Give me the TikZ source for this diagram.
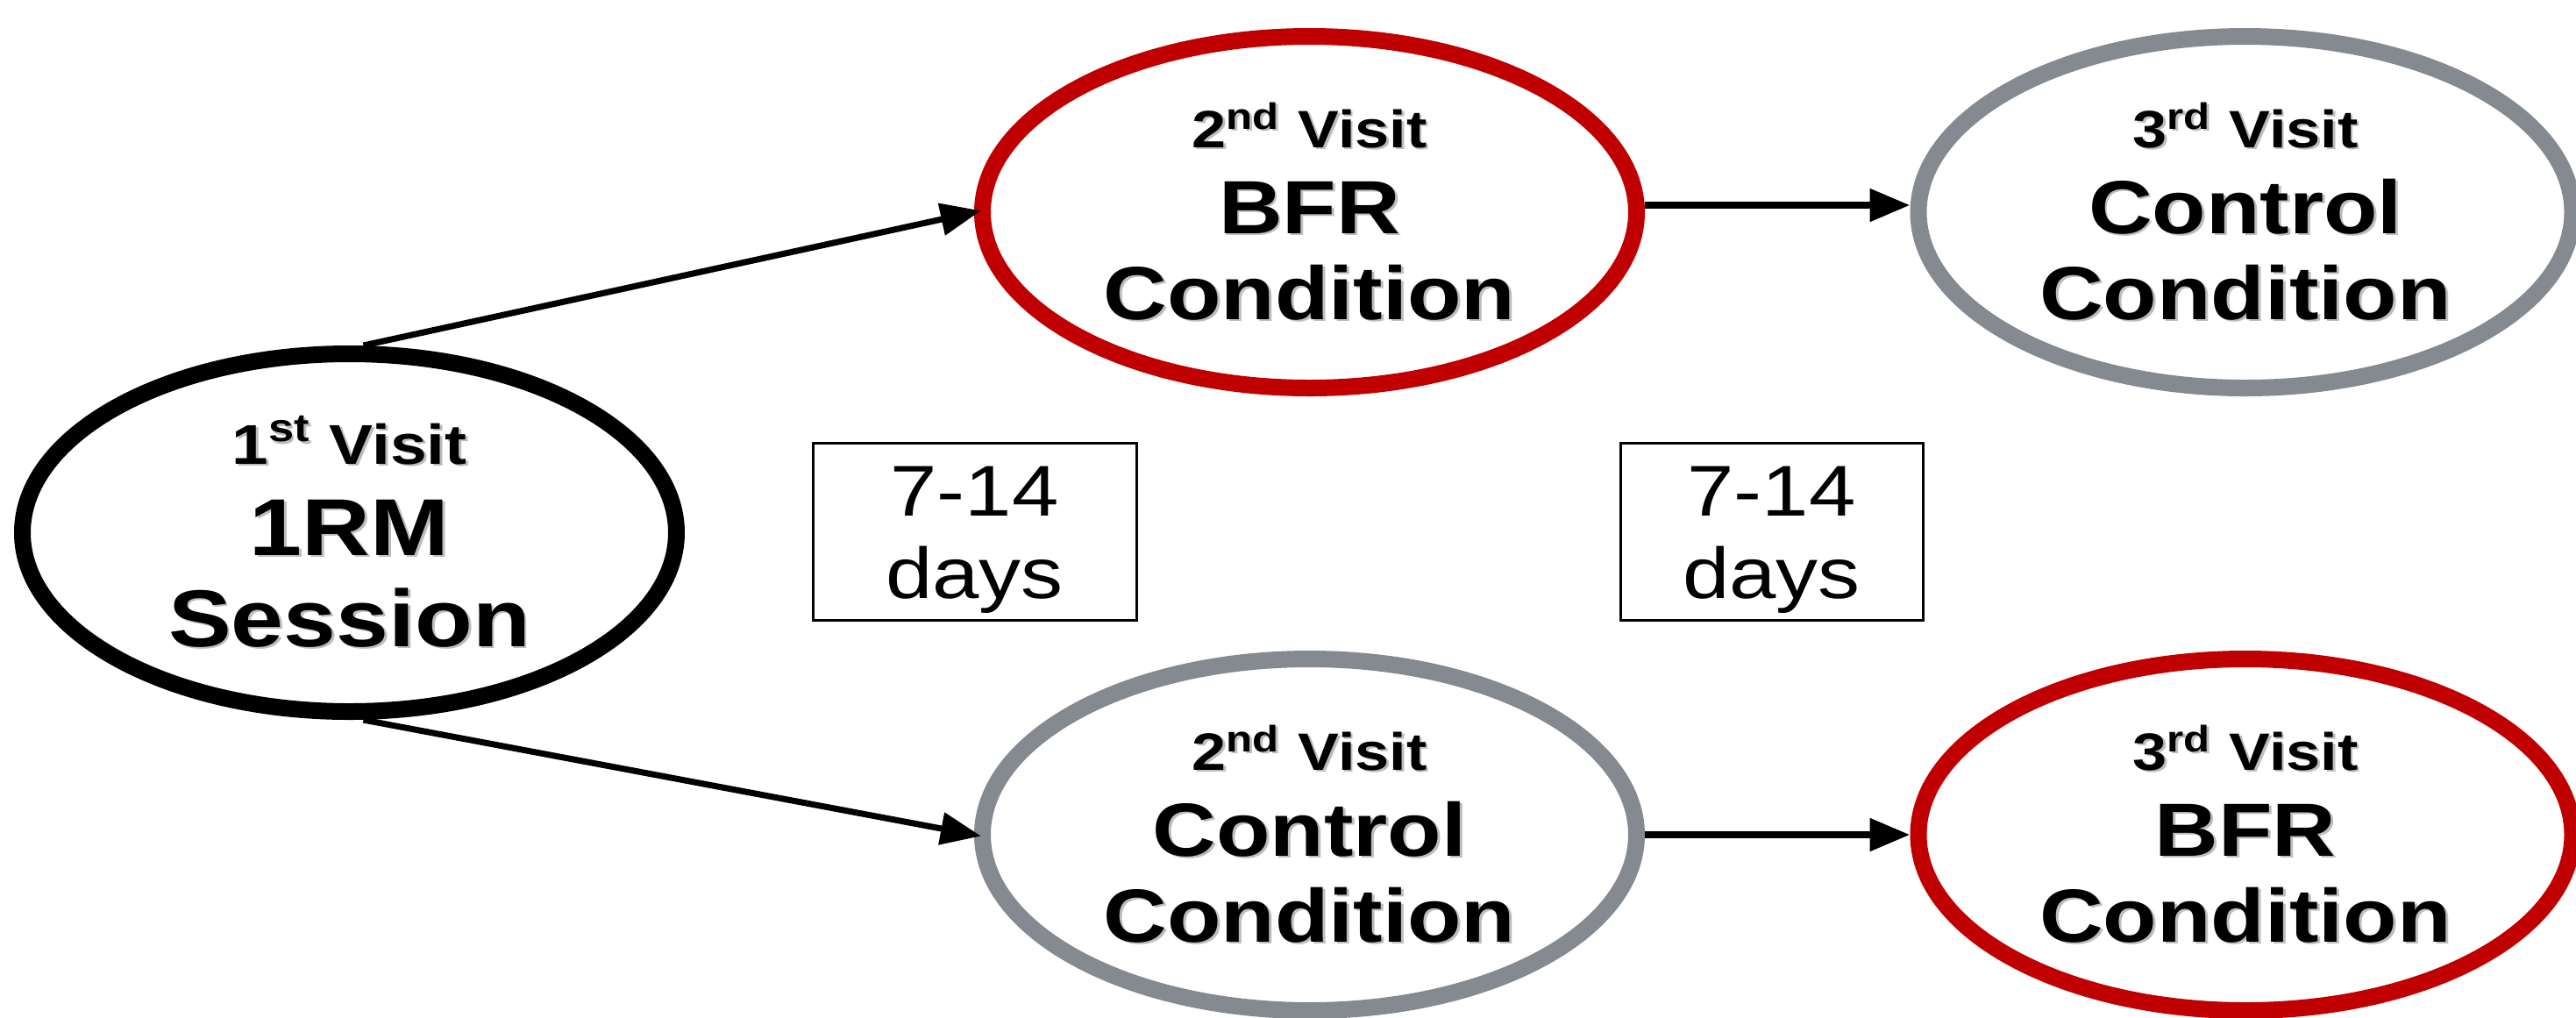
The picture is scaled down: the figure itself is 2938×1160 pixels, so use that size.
\documentclass[tikz,border=0pt]{standalone}
\usepackage{fontspec}
\setmainfont{Liberation Sans}
\usepackage{graphicx}
\usetikzlibrary{shapes.geometric,arrows.meta}
\definecolor{bfrred}{HTML}{C00000}
\definecolor{ctlgray}{HTML}{848A90}
\definecolor{shadowgray}{HTML}{BDBDBD}
\newcommand{\shd}[1]{\makebox[0pt][l]{\hspace{0.6pt}\raisebox{-0.6pt}{\textcolor{shadowgray}{#1}}}#1}
\newcommand{\smlline}[2]{\scalebox{1.17}[1]{\fontsize{#1}{#1}\selectfont\shd{#2}}}
\newcommand{\bigline}[1]{\scalebox{1.17}[1]{\shd{#1}}}
\newcommand{\wide}[1]{\scalebox{1.17}[1]{#1}}
\begin{document}
\begin{tikzpicture}[x=0.25pt,y=-0.25pt,
  visit/.style={ellipse, draw, line width=4.75pt, minimum width=186.5pt,
    minimum height=100.25pt, inner sep=0pt, align=center,
    font=\bfseries\fontsize{21.5}{24.5}\selectfont},
  bfr/.style={visit, draw=bfrred},
  ctl/.style={visit, draw=ctlgray},
  gapbox/.style={draw, line width=0.75pt, rectangle, minimum height=50.5pt,
    inner sep=0pt, align=center, font=\fontsize{20.5}{23.5}\selectfont},
  arr/.style={-{Triangle[length=11.5pt,width=9pt]}, line width=1.75pt},
  harr/.style={arr, line width=2.1pt}]
\useasboundingbox (0,0) rectangle (2938,1160);
\node[visit, minimum height=102pt, font=\bfseries\fontsize{23}{26}\selectfont] (rm) at (398.5,607.5)
  {\smlline{16}{1\textsuperscript{st} Visit}\\ \bigline{1RM}\\ \bigline{Session}};
\node[bfr] (b2) at (1493.5,242)
  {\smlline{15}{2\textsuperscript{nd} Visit}\\ \bigline{BFR}\\ \bigline{Condition}};
\node[ctl] (c3) at (2561,242)
  {\smlline{15}{3\textsuperscript{rd} Visit}\\ \bigline{Control}\\ \bigline{Condition}};
\node[ctl] (c2) at (1493.5,952)
  {\smlline{15}{2\textsuperscript{nd} Visit}\\ \bigline{Control}\\ \bigline{Condition}};
\node[bfr] (b3) at (2561,952)
  {\smlline{15}{3\textsuperscript{rd} Visit}\\ \bigline{BFR}\\ \bigline{Condition}};
\node[gapbox, minimum width=92.25pt] (g1) at (1111.5,606) {\rule{0pt}{19.2pt}\wide{7-14}\\ \wide{days}};
\node[gapbox, minimum width=86.25pt] (g2) at (2020.5,606) {\rule{0pt}{19.2pt}\wide{7-14}\\ \wide{days}};
\draw[arr, shorten >=-2pt] ([xshift=4pt]rm.north) -- (b2.west);
\draw[arr, shorten >=-2pt] ([xshift=4pt]rm.south) -- (c2.west);
\draw[harr] ([yshift=2pt]b2.east) -- ([yshift=2pt]c3.west);
\draw[harr] (c2.east) -- (b3.west);
\end{tikzpicture}
\end{document}
